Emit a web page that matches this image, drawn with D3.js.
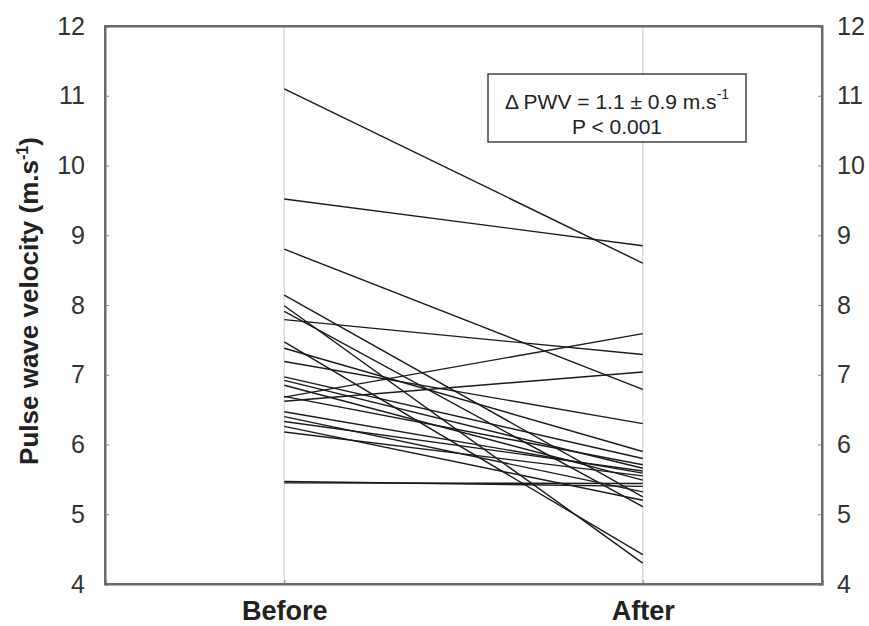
<!DOCTYPE html>
<html>
<head>
<meta charset="utf-8">
<script src="https://cdn.jsdelivr.net/npm/d3@7"></script>
<style>
  html, body { margin: 0; padding: 0; background: #fff; }
  svg { display: block; font-family: "Liberation Sans", Arial, Helvetica, sans-serif; }
</style>
</head>
<body>
<svg id="chart" width="869" height="626"></svg>
<script>
// ---- data ----
const categories = ["Before", "After"];
const beforeValues = [11.1, 9.52, 8.8, 7.79, 6.68, 6.62, 5.47, 5.45,
  8.14, 7.99, 7.91, 7.47, 7.38, 7.19, 6.97, 6.92, 6.85, 6.69, 6.47, 6.4, 6.33, 6.26, 6.18];
const afterValues = [8.6, 8.85, 6.79, 7.29, 7.59, 7.04, 5.4, 5.44,
  5.25, 4.3, 5.11, 4.42, 5.9, 6.3, 5.8, 5.66, 5.49, 5.71, 5.59, 5.32, 5.62, 5.2, 5.55];
const yTicks = [4, 5, 6, 7, 8, 9, 10, 11, 12];
const yTitle = "Pulse wave velocity (m.s";
const annotLine1 = "\u0394 PWV = 1.1 \u00b1 0.9 m.s";
const annotLine2 = "P < 0.001";

// ---- layout ----
const svg = d3.select("#chart");
const L = 105, R = 822, T = 26, B = 584;

const x = d3.scalePoint().domain(categories).range([L, R]).padding(0.5);
const y = d3.scaleLinear().domain([4, 12]).range([B, T]);

// vertical category lines
svg.append("g").selectAll("line").data(categories).join("line")
  .attr("x1", d => x(d)).attr("x2", d => x(d))
  .attr("y1", T).attr("y2", B)
  .attr("stroke", "#dcdcdc").attr("stroke-width", 1.5);

// paired lines
const pairs = beforeValues.map((b, i) => [b, afterValues[i]]);
svg.append("g").selectAll("line").data(pairs).join("line")
  .attr("x1", x("Before")).attr("x2", x("After"))
  .attr("y1", d => y(d[0])).attr("y2", d => y(d[1]))
  .attr("stroke", "#1a1a1a").attr("stroke-width", 1.4);

// axes (ticks inward)
const axL = svg.append("g").attr("transform", `translate(${L},0)`)
  .call(d3.axisLeft(y).tickValues(yTicks).tickSize(-4).tickPadding(20).tickFormat(d3.format("d")));
const axR = svg.append("g").attr("transform", `translate(${R},0)`)
  .call(d3.axisRight(y).tickValues(yTicks).tickSize(-4).tickPadding(15).tickFormat(d3.format("d")));
const axB = svg.append("g").attr("transform", `translate(0,${B})`)
  .call(d3.axisBottom(x).tickSize(-4).tickPadding(15));
const axT = svg.append("g").attr("transform", `translate(0,${T})`)
  .call(d3.axisTop(x).tickSize(0).tickFormat(""));

[axL, axR, axB, axT].forEach(a => {
  a.select(".domain").attr("stroke", "#6b6b6b").attr("stroke-width", 2);
  a.selectAll(".tick line").attr("stroke", "#888").attr("stroke-width", 1);
});
axL.selectAll(".tick text").attr("font-size", 25).attr("fill", "#333");
axR.selectAll(".tick text").attr("font-size", 25).attr("fill", "#333");
axB.selectAll(".tick text").attr("font-size", 27).attr("font-weight", "bold").attr("fill", "#222")
  .attr("dy", "0.76em");
svg.append("rect").attr("x", L).attr("y", T).attr("width", R - L).attr("height", B - T)
  .attr("fill", "none").attr("stroke", "#6b6b6b").attr("stroke-width", 2);

// y title
const yt = svg.append("text")
  .attr("transform", `translate(38,${(T + B) / 2 - 4}) rotate(-90)`)
  .attr("text-anchor", "middle")
  .attr("font-size", 26).attr("font-weight", "bold").attr("fill", "#222");
yt.append("tspan").text(yTitle);
yt.append("tspan").attr("font-size", 16).attr("dy", -10).text("-1");
yt.append("tspan").attr("dy", 10).text(")");

// annotation box
const bx = 488, by = 74, bw = 258, bh = 68;
svg.append("rect").attr("x", bx).attr("y", by).attr("width", bw).attr("height", bh)
  .attr("fill", "#fff").attr("stroke", "#444").attr("stroke-width", 1.5);
const cx = bx + bw / 2;
const t1 = svg.append("text").attr("x", cx).attr("y", by + 35)
  .attr("text-anchor", "middle").attr("font-size", 21).attr("fill", "#222");
t1.append("tspan").text(annotLine1);
t1.append("tspan").attr("font-size", 14).attr("dy", -10).text("-1");
svg.append("text").attr("x", cx).attr("y", by + 60)
  .attr("dy", -10)
  .attr("text-anchor", "middle").attr("font-size", 21).attr("fill", "#222")
  .text("");
svg.append("text").attr("x", cx).attr("y", by + 60)
  .attr("text-anchor", "middle").attr("font-size", 21).attr("fill", "#222")
  .text(annotLine2);
</script>
</body>
</html>
